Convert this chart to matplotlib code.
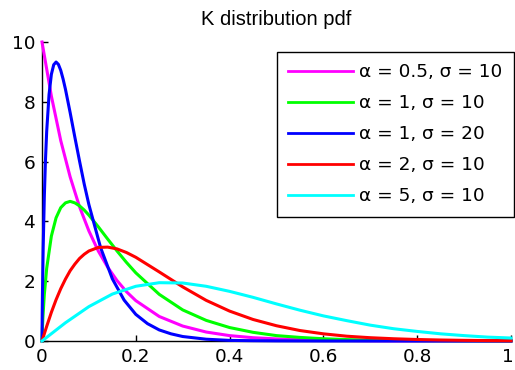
import matplotlib.pyplot as plt
import matplotlib.transforms as mtransforms

plt.rcParams['font.family'] = ['DejaVu Sans']

# alpha = 0.5, sigma = 10
x_mag = [0, .02, .04, .06, .08, .10, .12, .14, .16, .18, .20, .25, .30, .35,
         .40, .45, .50, .60, .70, .80, .90, 1.0]
y_mag = [10.0, 8.19, 6.70, 5.49, 4.49, 3.68, 3.01, 2.47, 2.02, 1.65, 1.35, 0.82,
         0.50, 0.30, 0.18, 0.11, 0.07, 0.025, 0.009, 0.003, 0.001, 0.0]

# alpha = 1, sigma = 10
x_green = [0, .001, .002, .005, .01, .02, .03, .04, .05, .06, .07, .08, .09,
           .10, .12, .14, .16, .18, .20, .25, .30, .35, .40, .45, .50, .55,
           .60, .65, .70, .80, .90, 1.0]
y_green = [0, 0.47, 0.81, 1.56, 2.43, 3.51, 4.12, 4.46, 4.62, 4.67, 4.62, 4.52,
           4.38, 4.21, 3.82, 3.41, 3.01, 2.63, 2.28, 1.56, 1.04, 0.69, 0.45,
           0.29, 0.18, 0.12, 0.075, 0.047, 0.03, 0.012, 0.005, 0.002]

# alpha = 1, sigma = 20
x_blue = [0, .0005, .001, .0025, .005, .0075, .01, .015, .02, .025, .03, .035,
          .04, .045, .05, .06, .07, .08, .09, .10, .125, .15, .175, .20, .225,
          .25, .275, .30, .35, .40, .45, .50, .60, 1.0]
y_blue = [0, 0.94, 1.61, 3.11, 4.85, 6.09, 7.01, 8.24, 8.92, 9.24, 9.33, 9.25,
          9.05, 8.76, 8.42, 7.64, 6.82, 6.02, 5.25, 4.56, 3.12, 2.08, 1.37,
          0.89, 0.58, 0.37, 0.24, 0.15, 0.06, 0.02, 0.01, 0.004, 0.0005, 0.0]

# alpha = 2, sigma = 10
x_red = [0, .01, .02, .03, .04, .05, .06, .07, .08, .09, .10, .12, .14, .16,
         .18, .20, .25, .30, .35, .40, .45, .50, .55, .60, .65, .70, .75, .80,
         .85, .90, .95, 1.0]
y_red = [0, 0.49, 0.96, 1.38, 1.75, 2.07, 2.35, 2.57, 2.76, 2.90, 3.01, 3.13,
         3.14, 3.08, 2.96, 2.80, 2.31, 1.81, 1.36, 1.00, 0.72, 0.51, 0.35,
         0.24, 0.16, 0.11, 0.075, 0.05, 0.033, 0.022, 0.014, 0.009]

# alpha = 5, sigma = 10
x_cyan = [0, .05, .10, .15, .20, .25, .30, .35, .40, .45, .50, .55, .60, .65,
          .70, .75, .80, .85, .90, .95, 1.0]
y_cyan = [0, 0.61, 1.15, 1.57, 1.83, 1.95, 1.94, 1.83, 1.66, 1.46, 1.24, 1.03,
          0.84, 0.68, 0.53, 0.41, 0.32, 0.24, 0.18, 0.13, 0.10]

labels = [u"\u03b1 = 0.5, \u03c3 = 10", u"\u03b1 = 1, \u03c3 = 10",
          u"\u03b1 = 1, \u03c3 = 20", u"\u03b1 = 2, \u03c3 = 10",
          u"\u03b1 = 5, \u03c3 = 10"]
colors = ['#ff00ff', '#00ff00', '#0000ff', '#ff0000', '#00ffff']
x_ticks = [0, 0.2, 0.4, 0.6, 0.8, 1]
x_ticklabels = ['0', '0.2', '0.4', '0.6', '0.8', '1']
y_ticks = [0, 2, 4, 6, 8, 10]

fig = plt.figure(figsize=(5.15, 3.7), dpi=100)
ax = fig.add_axes([42 / 515, 29 / 370, 469 / 515, 299 / 370])

curves = [(x_mag, y_mag), (x_green, y_green), (x_blue, y_blue),
          (x_red, y_red), (x_cyan, y_cyan)]
for (xs, ys), c, lab in zip(curves, colors, labels):
    ax.plot(xs, ys, color=c, lw=2.2, label=lab, clip_on=False, zorder=3)

ax.set_xlim(0, 1)
ax.set_ylim(0, 10)
ax.set_xticks(x_ticks)
ax.set_xticklabels(x_ticklabels)
ax.set_yticks(y_ticks)
ax.spines['top'].set_visible(False)
ax.spines['right'].set_visible(False)
for s in ['left', 'bottom']:
    ax.spines[s].set_linewidth(1.0)
ax.tick_params(direction='in', length=4, width=1, labelsize=13.3)
ax.tick_params(axis='x', pad=5)
ax.tick_params(axis='y', pad=5)

# keep the last x label inside the figure edge
last = ax.get_xticklabels()[-1]
last.set_transform(last.get_transform() +
                   mtransforms.ScaledTranslation(-3 / 100, 0, fig.dpi_scale_trans))

ax.set_title("K distribution pdf", fontsize=14.5, pad=12,
             family=['Liberation Sans', 'DejaVu Sans'])

leg = ax.legend(loc='upper right', bbox_to_anchor=(514 / 515, 1 - 52 / 370),
                bbox_transform=fig.transFigure, borderaxespad=0,
                fontsize=13.3, handlelength=3.52, handletextpad=0.32,
                labelspacing=0.7, borderpad=0.62, fancybox=False,
                framealpha=1)
leg.get_frame().set_edgecolor('black')
leg.get_frame().set_linewidth(1.0)
for h in leg.get_lines():
    h.set_linewidth(2)

fig.savefig("out.png", dpi=100)
